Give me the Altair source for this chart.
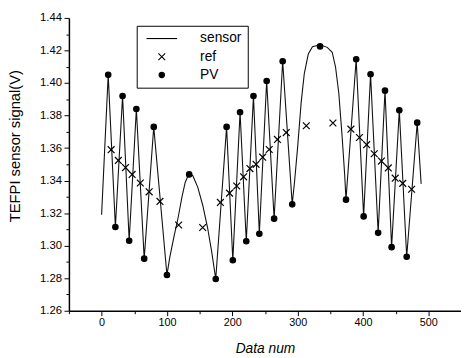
import altair as alt
import pandas as pd

# ---- data ----
SENSOR_X = [0, 10.1, 21.1, 32.1, 42.2, 53.2, 65.2, 79.8, 100.0,
            104.4, 111.0, 117.0, 123.0, 128.0, 134.0, 139.6, 147.1, 154.7, 162.2, 168.2,
            174.7, 191.3, 200.8, 211.9, 221.4, 232.4, 241.4, 252.6, 264.0, 277.1, 291.7,
            295.2, 300.2, 305.3, 310.2, 316.3, 322.7, 334.3, 345.3, 352.9, 358.0, 363.0, 368.0, 372.0,
            374.0, 389.6, 401.0, 411.6, 423.2, 433.7, 443.8, 455.6, 466.9, 483.0, 489.0]
SENSOR_Y = [1.319, 1.405, 1.3115, 1.392, 1.303, 1.384, 1.292, 1.373, 1.282,
            1.293, 1.306, 1.317, 1.330, 1.339, 1.3445, 1.343, 1.336, 1.325, 1.311, 1.297,
            1.2795, 1.373, 1.291, 1.382, 1.3027, 1.392, 1.3073, 1.4012, 1.3166, 1.4134, 1.3254,
            1.339, 1.3615, 1.3876, 1.4058, 1.4178, 1.4223, 1.4235, 1.4219, 1.4189, 1.4098, 1.3937, 1.3675, 1.3434,
            1.3283, 1.4146, 1.318, 1.4054, 1.3079, 1.3953, 1.2991, 1.3832, 1.2932, 1.3756, 1.338]

REF_X = [14.6, 25.6, 36.6, 46.7, 59.2, 72.8, 89.3, 117.9, 154.7, 181.8,
         195.8, 206.8, 217.3, 227.0, 236.4, 246.5, 256.5, 269.1, 282.6, 313.3,
         354.0, 381.5, 394.6, 405.6, 417.2, 428.2, 438.7, 449.3, 460.8, 474.4]
REF_Y = [1.359, 1.3524, 1.348, 1.3438, 1.3385, 1.3331, 1.3272, 1.3127, 1.3112, 1.3266,
         1.3323, 1.3367, 1.3423, 1.3474, 1.350, 1.3544, 1.3591, 1.3653, 1.3695, 1.3737,
         1.3754, 1.3716, 1.3665, 1.3621, 1.3565, 1.352, 1.3478, 1.3415, 1.3383, 1.3347]

PV_X = [10.1, 21.1, 32.1, 42.2, 53.2, 65.2, 79.8, 100.0, 134.0, 174.7,
        191.3, 200.8, 211.9, 221.4, 232.4, 241.4, 252.6, 264.0, 277.1, 291.7,
        334.3, 374.0, 389.6, 401.0, 411.6, 423.2, 433.7, 443.8, 455.6, 466.9, 483.0]
PV_Y = [1.405, 1.3115, 1.392, 1.303, 1.384, 1.292, 1.373, 1.282, 1.3438, 1.2795,
        1.373, 1.291, 1.382, 1.3027, 1.392, 1.3073, 1.4012, 1.3166, 1.4134, 1.3254,
        1.4225, 1.3283, 1.4146, 1.318, 1.4054, 1.3079, 1.3953, 1.2991, 1.3832, 1.2932, 1.3756]

SERIES = ["sensor", "ref", "PV"]
X_TICKS = [-50, 0, 50, 100, 150, 200, 250, 300, 350, 400, 450, 500, 550]
Y_TICKS = [1.26, 1.27, 1.28, 1.29, 1.30, 1.31, 1.32, 1.33, 1.34, 1.35,
           1.36, 1.37, 1.38, 1.39, 1.40, 1.41, 1.42, 1.43, 1.44]

FONT = "Liberation Sans"
SHAPES = ["M-4.5,0L4.5,0",
          "M-1,-1L1,1M-1,1L1,-1",
          "M-0.8,0A0.8,0.8 0 1,0 0.8,0A0.8,0.8 0 1,0 -0.8,0Z"]
FILLS = ["transparent", "transparent", "black"]
STROKES = ["black", "black", "black"]

sensor_df = pd.DataFrame({"x": SENSOR_X, "y": SENSOR_Y})
pts_df = pd.concat([
    pd.DataFrame({"x": REF_X, "y": REF_Y, "series": "ref"}),
    pd.DataFrame({"x": PV_X, "y": PV_Y, "series": "PV"}),
], ignore_index=True)

xscale = alt.Scale(domain=[-50, 550], nice=False, zero=False)
yscale = alt.Scale(domain=[1.26, 1.44], nice=False, zero=False)

xaxis = alt.Axis(
    values=X_TICKS, tickCount=100, labelOverlap=False,
    labelExpr="datum.value % 100 == 0 ? datum.label : ''",
    tickSize={"condition": {"test": "datum.value % 100 == 0", "value": 5}, "value": 3},
    grid=False, domainColor="black", domainWidth=1.5, tickColor="black", tickWidth=1,
    labelFont=FONT, labelFontSize=11, labelColor="black", labelPadding=1,
    title="Data num", titleFont=FONT, titleFontSize=14, titleFontStyle="italic",
    titleFontWeight="normal", titleColor="black", titlePadding=14,
)
yaxis = alt.Axis(
    values=Y_TICKS, tickCount=100, labelOverlap=False,
    labelExpr="round(datum.value*100) % 2 == 0 ? format(datum.value, '.2f') : ''",
    tickSize={"condition": {"test": "round(datum.value*100) % 2 == 0", "value": 5}, "value": 3},
    grid=False, domainColor="black", domainWidth=1.5, tickColor="black", tickWidth=1,
    labelFont=FONT, labelFontSize=11.5, labelColor="black", labelPadding=2.5,
    title="TEFPI sensor signal(V)", titleFont=FONT, titleFontSize=15,
    titleFontWeight="normal", titleColor="black",
    titleX=-50, titleY=130, titleBaseline="alphabetic", titleAngle=270,
)

legend = alt.Legend(
    title=None, orient="none", legendX=69, legendY=8, padding=6, rowPadding=4.5,
    labelFont=FONT, labelFontSize=14, labelColor="black",
    labelOffset=32, symbolOffset=12.5, symbolSize=48,
    strokeColor="black", fillColor="white",
    symbolStrokeWidth=1.1, symbolOpacity=1,
)

line = alt.Chart(sensor_df).mark_line(color="#111111", strokeWidth=1.1).encode(
    x=alt.X("x:Q", scale=xscale, axis=xaxis),
    y=alt.Y("y:Q", scale=yscale, axis=yaxis),
)

points = alt.Chart(pts_df).mark_point(filled=False, strokeWidth=1.2, opacity=1, size=48).encode(
    x=alt.X("x:Q", scale=xscale),
    y=alt.Y("y:Q", scale=yscale),
    shape=alt.Shape("series:N", scale=alt.Scale(domain=SERIES, range=SHAPES), legend=legend),
    fill=alt.Fill("series:N", scale=alt.Scale(domain=SERIES, range=FILLS), legend=legend),
    stroke=alt.Stroke("series:N", scale=alt.Scale(domain=SERIES, range=STROKES), legend=legend),
)

chart = alt.layer(line, points).properties(
    width=399, height=298,
    autosize=alt.AutoSizeParams(type="none"),
    padding={"left": 62, "top": 7, "right": 0, "bottom": 45},
    background="white",
).configure_view(stroke="transparent")

chart.save("out.html", embed_options={"renderer": "svg", "actions": False})
